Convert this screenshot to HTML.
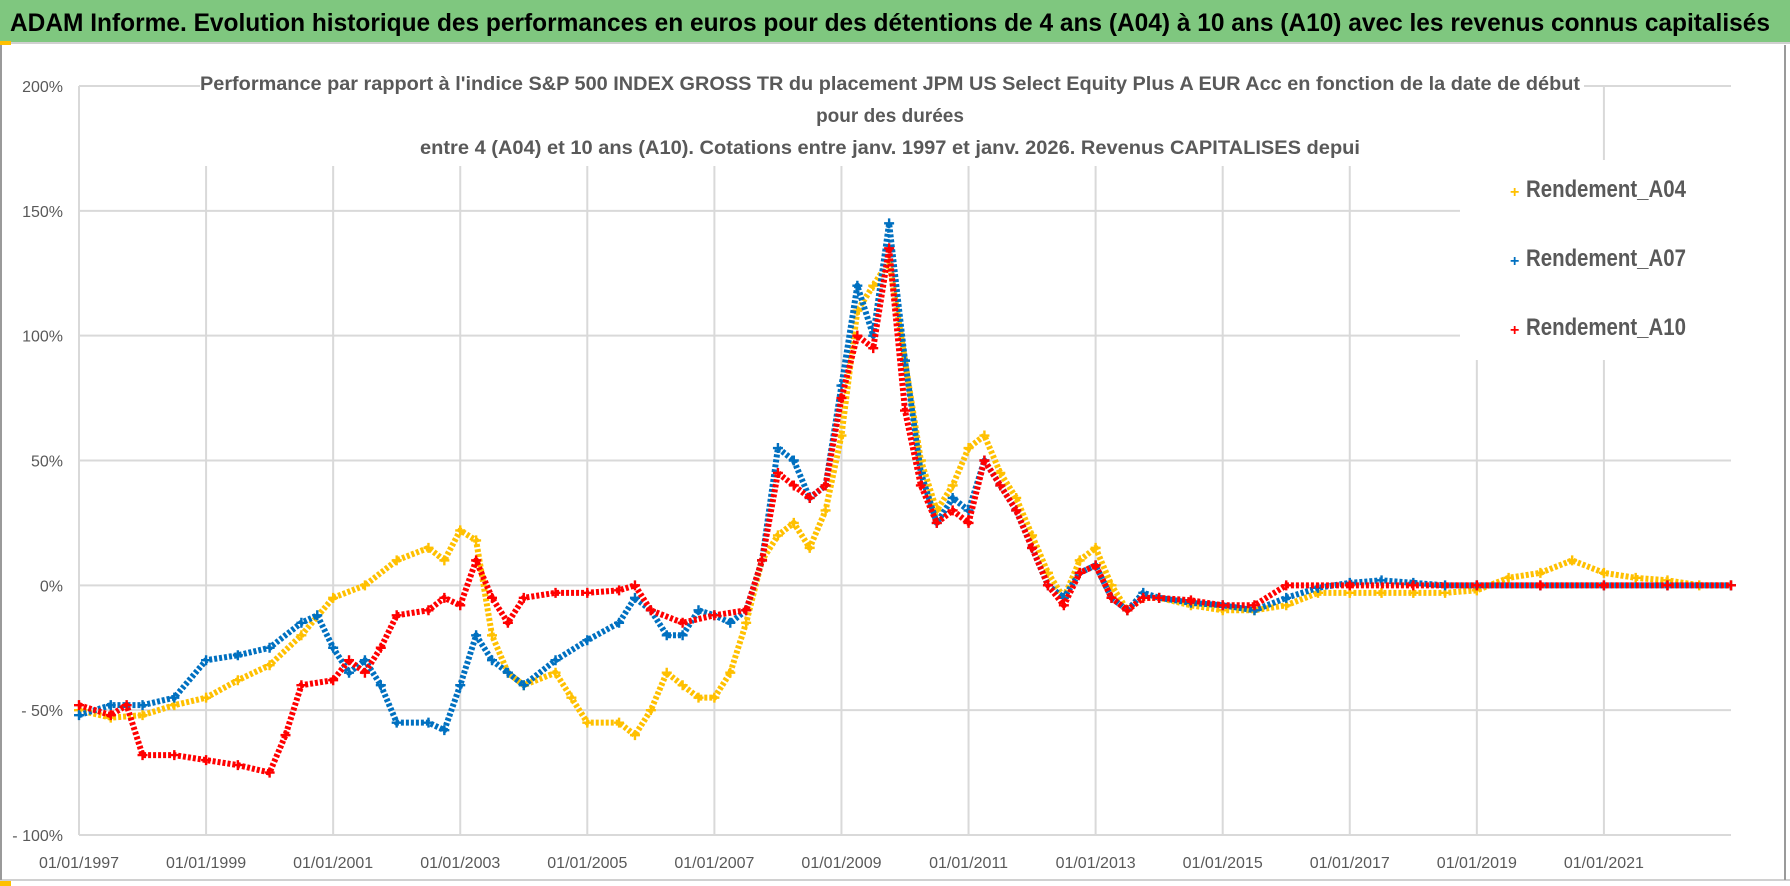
<!DOCTYPE html>
<html><head><meta charset="utf-8"><style>
html,body{margin:0;padding:0;background:#fff;}
svg{display:block;font-family:"Liberation Sans Narrow","Liberation Sans",sans-serif;}
</style></head><body>
<svg id="chart" width="1790" height="886" viewBox="0 0 1790 886">
<rect x="0" y="0" width="1790" height="886" fill="#fff"/>
<rect x="0" y="0" width="1790" height="42" fill="#7fc77f"/>
<line x1="0" y1="43" x2="1790" y2="43" stroke="#d0d0d0" stroke-width="2"/>
<rect x="0" y="41" width="11" height="4" fill="#ffc000"/>
<rect x="0" y="880" width="11" height="6" fill="#ffc000"/>
<line x1="0" y1="880" x2="1790" y2="880" stroke="#d0d0d0" stroke-width="2"/>
<line x1="1785" y1="45" x2="1785" y2="880" stroke="#9a9a9a" stroke-width="2"/>
<line x1="1" y1="45" x2="1" y2="880" stroke="#9a9a9a" stroke-width="2"/>
<text x="10" y="31" font-size="25" font-weight="bold" fill="#000" textLength="1760" lengthAdjust="spacingAndGlyphs">ADAM Informe. Evolution historique des performances en euros pour des détentions de 4 ans (A04) à 10 ans (A10) avec les revenus connus capitalisés</text>
<g id="grid"></g>
<rect x="1460" y="160" width="272" height="200" fill="#fff"/>
<rect x="200" y="66" width="1384" height="100" fill="#fff"/>
<g id="marks"></g>
<g id="axes"></g>
<g font-size="19" font-weight="bold" fill="#595959" text-anchor="middle">
<text x="890" y="90" textLength="1380" lengthAdjust="spacingAndGlyphs">Performance par rapport à l'indice S&amp;P 500 INDEX GROSS TR  du placement JPM US Select Equity Plus A EUR Acc en fonction de la date de début</text>
<text x="890" y="122">pour des durées</text>
<text x="890" y="154" textLength="940" lengthAdjust="spacingAndGlyphs">entre 4 (A04) et 10 ans (A10). Cotations entre janv. 1997 et janv. 2026. Revenus CAPITALISES depui</text>
</g>
<g font-size="24" font-weight="bold" fill="#595959">
<g><text x="1510" y="197" fill="#ffc000" font-size="16">+</text><text x="1526" y="197" textLength="160" lengthAdjust="spacingAndGlyphs">Rendement_A04</text></g>
<g><text x="1510" y="266" fill="#0070c0" font-size="16">+</text><text x="1526" y="266" textLength="160" lengthAdjust="spacingAndGlyphs">Rendement_A07</text></g>
<g><text x="1510" y="335" fill="#ff0000" font-size="16">+</text><text x="1526" y="335" textLength="160" lengthAdjust="spacingAndGlyphs">Rendement_A10</text></g>
</g>
</svg>
<script>
const yTicks=[200,150,100,50,0,-50,-100];
const yTickLabels=["200%","150%","100%","50%","0%","- 50%","- 100%"];
const xTicks=[1997,1999,2001,2003,2005,2007,2009,2011,2013,2015,2017,2019,2021];
const xTickLabels=["01/01/1997","01/01/1999","01/01/2001","01/01/2003","01/01/2005","01/01/2007","01/01/2009","01/01/2011","01/01/2013","01/01/2015","01/01/2017","01/01/2019","01/01/2021"];
const datesA04=[1997,1997.5,1998,1998.5,1999,1999.5,2000,2000.5,2001,2001.5,2002,2002.5,2002.75,2003,2003.25,2003.5,2003.75,2004,2004.5,2004.75,2005,2005.5,2005.75,2006,2006.25,2006.5,2006.75,2007,2007.25,2007.5,2007.75,2008,2008.25,2008.5,2008.75,2009,2009.25,2009.5,2009.75,2010,2010.25,2010.5,2010.75,2011,2011.25,2011.5,2011.75,2012,2012.25,2012.5,2012.75,2013,2013.25,2013.5,2013.75,2014,2014.5,2015,2015.5,2016,2016.5,2017,2017.5,2018,2018.5,2019,2019.5,2020,2020.5,2021,2021.5,2022,2022.5,2023];
const valuesA04=[-50,-53,-52,-48,-45,-38,-32,-20,-5,0,10,15,10,22,18,-20,-35,-40,-35,-45,-55,-55,-60,-50,-35,-40,-45,-45,-35,-15,10,20,25,15,30,60,110,120,130,90,50,30,40,55,60,45,35,20,5,-5,10,15,0,-10,-5,-5,-8,-10,-10,-8,-3,-3,-3,-3,-3,-2,3,5,10,5,3,2,0,0];
const datesA07=[1997,1997.5,1998,1998.5,1999,1999.5,2000,2000.5,2000.75,2001,2001.25,2001.5,2001.75,2002,2002.5,2002.75,2003,2003.25,2003.5,2003.75,2004,2004.5,2005,2005.5,2005.75,2006,2006.25,2006.5,2006.75,2007,2007.25,2007.5,2007.75,2008,2008.25,2008.5,2008.75,2009,2009.25,2009.5,2009.75,2010,2010.25,2010.5,2010.75,2011,2011.25,2011.5,2011.75,2012,2012.25,2012.5,2012.75,2013,2013.25,2013.5,2013.75,2014,2014.5,2015,2015.5,2016,2016.5,2017,2017.5,2018,2018.5,2019,2020,2021,2022,2023];
const valuesA07=[-52,-48,-48,-45,-30,-28,-25,-15,-12,-25,-35,-30,-40,-55,-55,-58,-40,-20,-30,-35,-40,-30,-22,-15,-5,-10,-20,-20,-10,-12,-15,-10,10,55,50,35,40,80,120,100,145,90,45,25,35,30,50,40,30,15,0,-5,5,8,-5,-10,-3,-5,-7,-8,-10,-5,-1,1,2,1,0,0,0,0,0,0];
const datesA10=[1997,1997.5,1997.75,1998,1998.5,1999,1999.5,2000,2000.25,2000.5,2001,2001.25,2001.5,2001.75,2002,2002.5,2002.75,2003,2003.25,2003.5,2003.75,2004,2004.5,2005,2005.5,2005.75,2006,2006.5,2007,2007.5,2007.75,2008,2008.25,2008.5,2008.75,2009,2009.25,2009.5,2009.75,2010,2010.25,2010.5,2010.75,2011,2011.25,2011.5,2011.75,2012,2012.25,2012.5,2012.75,2013,2013.25,2013.5,2013.75,2014,2014.5,2015,2015.5,2016,2017,2018,2019,2020,2021,2022,2023];
const valuesA10=[-48,-52,-48,-68,-68,-70,-72,-75,-60,-40,-38,-30,-35,-25,-12,-10,-5,-8,10,-5,-15,-5,-3,-3,-2,0,-10,-15,-12,-10,10,45,40,35,40,75,100,95,135,70,40,25,30,25,50,40,30,15,0,-8,5,8,-5,-10,-5,-5,-6,-8,-8,0,0,0,0,0,0,0,0];

const NS="http://www.w3.org/2000/svg";
const X0=79,X1=1731,Y0=86,Y1=835,YR0=1997,YR1=2023,VMAX=200,VMIN=-100;
function xScale(t){return X0+(t-YR0)/(YR1-YR0)*(X1-X0);}
function yScale(v){return Y0+(VMAX-v)/(VMAX-VMIN)*(Y1-Y0);}
function mk(tag,attrs,parent){const e=document.createElementNS(NS,tag);for(const k in attrs)e.setAttribute(k,attrs[k]);parent.appendChild(e);return e;}
const grid=document.getElementById('grid'),axes=document.getElementById('axes'),marks=document.getElementById('marks');
yTicks.forEach((v,i)=>{
  const l=mk('line',{x1:X0,x2:X1,y1:yScale(v),y2:yScale(v),stroke:'#d9d9d9','stroke-width':2},grid);
  
  
  const t=mk('text',{x:63,y:yScale(v)+6,'text-anchor':'end','font-size':16,fill:'#595959'},axes);
  t.textContent=yTickLabels[i];
  
  
});
xTicks.forEach((yr,i)=>{
  const l=mk('line',{x1:xScale(yr),x2:xScale(yr),y1:Y0,y2:Y1,stroke:'#d9d9d9','stroke-width':2},grid);
  
  
  const t=mk('text',{x:xScale(yr),y:868,'text-anchor':'middle','font-size':16,fill:'#595959'},axes);
  t.textContent=xTickLabels[i];
  
  
});
const vx=mk('line',{x1:X0,x2:X0,y1:Y0,y2:Y1,stroke:'#d9d9d9','stroke-width':2},grid);


function drawSeries(dates,vals,color,name){
  const g=mk('g',{},marks);
  
  
  const pts=dates.map((d,i)=>xScale(d)+','+yScale(vals[i])).join(' ');
  mk('polyline',{points:pts,fill:'none',stroke:color,'stroke-width':6,'stroke-linejoin':'round','stroke-dasharray':'3 2'},g);
  dates.forEach((d,i)=>{
    const x=xScale(d),y=yScale(vals[i]);
    const p=mk('path',{d:`M${x-5},${y}H${x+5}M${x},${y-5}V${y+5}`,stroke:color,'stroke-width':2.4},g);
    
    
  });
}
drawSeries(datesA04,valuesA04,'#ffc000','series-a04');
drawSeries(datesA07,valuesA07,'#0070c0','series-a07');
drawSeries(datesA10,valuesA10,'#ff0000','series-a10');
</script>
</body></html>
